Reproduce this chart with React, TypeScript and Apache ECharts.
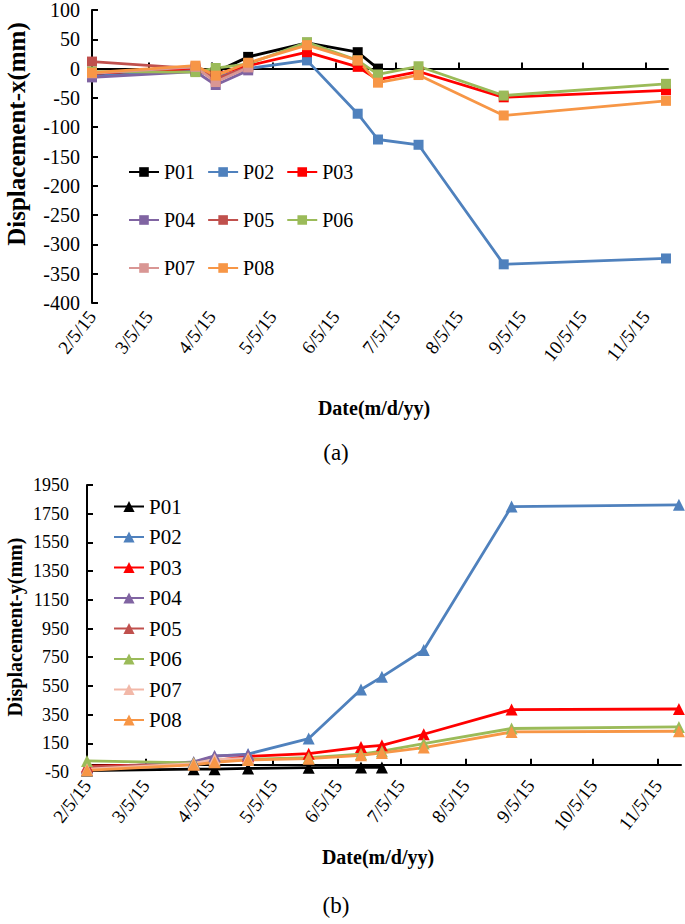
import React, { useEffect, useRef } from "react";
import * as echarts from "echarts";

const FONT = "Liberation Serif";
const START = "2015-02-05";
const AXIS_END = "2015-11-16";

const dates = [
  "2015-02-05", "2015-03-28", "2015-04-07", "2015-04-23", "2015-05-22",
  "2015-06-16", "2015-06-26", "2015-07-16", "2015-08-27", "2015-11-15",
];
const tickDates = [
  "2015-02-05", "2015-03-05", "2015-04-05", "2015-05-05", "2015-06-05",
  "2015-07-05", "2015-08-05", "2015-09-05", "2015-10-05", "2015-11-05",
];
const tickLabels = [
  "2/5/15", "3/5/15", "4/5/15", "5/5/15", "6/5/15",
  "7/5/15", "8/5/15", "9/5/15", "10/5/15", "11/5/15",
];
const names = ["P01", "P02", "P03", "P04", "P05", "P06", "P07", "P08"];
const colorsA = ["#000000", "#4F81BD", "#FF0000", "#8064A2", "#C0504D", "#9BBB59", "#D99694", "#F79646"];
const colorsB = ["#000000", "#4F81BD", "#FF0000", "#8064A2", "#C0504D", "#9BBB59", "#F2B8A8", "#F79646"];

// (a) Displacement-x (mm)
const xP01 = [-12, -3, -6, 20, 44, 28, 0, null, null, null];
const xP02 = [-13, -3, -15, 0, 14, -77, -121, -130, -334, -324];
const xP03 = [-8, 0, -10, 5, 28, 3, -19, -5, -49, -37];
const xP04 = [-15, -5, -28, -3, null, null, null, null, null, null];
const xP05 = [12, 0, -18, 3, null, null, null, null, null, null];
const xP06 = [-5, -6, 1, 8, 45, 14, -10, 4, -46, -26];
const xP07 = [-8, 3, -23, 2, null, null, null, null, null, null];
const xP08 = [-7, 5, -12, 10, 40, 14, -24, -11, -80, -55];

// (b) Displacement-y (mm)
const yP01 = [-40, -30, -30, -25, -20, -18, -18, null, null, null];
const yP02 = [-20, 15, 60, 75, 183, 525, 613, 800, 1800, 1812];
const yP03 = [-10, 5, 30, 59, 78, 124, 136, 213, 385, 389];
const yP04 = [-25, 20, 62, 70, null, null, null, null, null, null];
const yP05 = [-15, 5, 25, 45, null, null, null, null, null, null];
const yP06 = [27, 13, 25, 38, 50, 75, 95, 148, 253, 264];
const yP07 = [-30, 8, 38, 45, null, null, null, null, null, null];
const yP08 = [-38, 0, 18, 34, 43, 66, 83, 120, 229, 234];

const xSeries = [xP01, xP02, xP03, xP04, xP05, xP06, xP07, xP08];
const ySeries = [yP01, yP02, yP03, yP04, yP05, yP06, yP07, yP08];

const day = (s: string) => Math.round((Date.parse(s) - Date.parse(START)) / 86400000);
const tickDays = tickDates.map(day);

function xAxisOpt() {
  return {
    type: "value",
    min: 0,
    max: day(AXIS_END),
    axisLine: { show: true, lineStyle: { color: "#000", width: 2 } },
    axisTick: { show: true, inside: true, length: 6, customValues: tickDays, lineStyle: { color: "#000", width: 2 } },
    axisLabel: {
      customValues: tickDays,
      rotate: 52,
      margin: 10,
      color: "#000",
      fontFamily: FONT,
      fontSize: 19,
      formatter: (v: number) => {
        const i = tickDays.indexOf(Math.round(v));
        return i >= 0 ? tickLabels[i] : "";
      },
    },
    splitLine: { show: false },
  };
}

function yAxisOpt(min: number, max: number, interval: number, margin: number, size: number) {
  return {
    type: "value",
    min,
    max,
    interval,
    axisLine: { show: true, lineStyle: { color: "#000", width: 2 } },
    axisTick: { show: true, inside: true, length: 6, lineStyle: { color: "#000", width: 2 } },
    axisLabel: { color: "#000", fontFamily: FONT, fontSize: size, margin, formatter: (v: number) => String(v) },
    splitLine: { show: false },
  };
}

function buildSeries(arrs: (number | null)[][], colors: string[], symbol: string, size: number) {
  return arrs.map((vals, k) => ({
    name: names[k],
    type: "line",
    symbol,
    symbolSize: size,
    showSymbol: true,
    lineStyle: { width: 2.8, color: colors[k] },
    itemStyle: { color: colors[k] },
    data: dates
      .map((d, i) => [day(d), vals[i]])
      .filter((p) => p[1] !== null && p[1] !== undefined),
  }));
}

const legendBase = {
  itemWidth: 30,
  itemHeight: 12,
  textStyle: { fontFamily: FONT, fontSize: 21, color: "#000" },
  selectedMode: false,
};

const legendTop = { ...legendBase, textStyle: { fontFamily: FONT, fontSize: 20, color: "#000" }, itemGap: 12 };

function optionA() {
  return {
    animation: false,
    backgroundColor: "#fff",
    grid: { left: 92, top: 7, width: 576, height: 296 },
    xAxis: xAxisOpt(),
    yAxis: yAxisOpt(-400, 100, 50, 12, 20),
    legend: [
      { ...legendTop, data: names.slice(0, 3), left: 123, top: 157 },
      { ...legendTop, data: names.slice(3, 6), left: 123, top: 205 },
      { ...legendTop, data: names.slice(6, 8), left: 123, top: 253 },
    ],
    series: buildSeries(xSeries, colorsA, "rect", 10),
    graphic: [
      {
        type: "text",
        x: 16,
        y: 134,
        rotation: Math.PI / 2,
        style: { text: "Displacement-x(mm)", fontFamily: FONT, fontWeight: "bold", fontSize: 25, fill: "#000", align: "center", verticalAlign: "middle" },
      },
      {
        type: "text",
        x: 374,
        y: 408,
        style: { text: "Date(m/d/yy)", fontFamily: FONT, fontWeight: "bold", fontSize: 20, fill: "#000", align: "center", verticalAlign: "middle" },
      },
      {
        type: "text",
        x: 336,
        y: 452,
        style: { text: "(a)", fontFamily: FONT, fontSize: 23, fill: "#000", align: "center", verticalAlign: "middle" },
      },
    ],
  };
}

const B_OFF = 470;

function optionB() {
  return {
    animation: false,
    backgroundColor: "#fff",
    grid: { left: 87, top: 485 - B_OFF, width: 594, height: 287 },
    xAxis: xAxisOpt(),
    yAxis: yAxisOpt(-50, 1950, 200, 18, 18),
    legend: {
      ...legendBase,
      orient: "vertical",
      data: names,
      left: 108,
      top: 491 - B_OFF,
      itemGap: 9.5,
      itemHeight: 14,
    },
    series: buildSeries(ySeries, colorsB, "triangle", 12),
    graphic: [
      {
        type: "text",
        x: 15,
        y: 627 - B_OFF,
        rotation: Math.PI / 2,
        style: { text: "Displacement-y(mm)", fontFamily: FONT, fontWeight: "bold", fontSize: 20, fill: "#000", align: "center", verticalAlign: "middle" },
      },
      {
        type: "text",
        x: 378,
        y: 857 - B_OFF,
        style: { text: "Date(m/d/yy)", fontFamily: FONT, fontWeight: "bold", fontSize: 20, fill: "#000", align: "center", verticalAlign: "middle" },
      },
      {
        type: "text",
        x: 336,
        y: 905 - B_OFF,
        style: { text: "(b)", fontFamily: FONT, fontSize: 23, fill: "#000", align: "center", verticalAlign: "middle" },
      },
    ],
  };
}

export default function App() {
  const refA = useRef<HTMLDivElement>(null);
  const refB = useRef<HTMLDivElement>(null);
  useEffect(() => {
    const a = echarts.init(refA.current!, null, { renderer: "svg" });
    const b = echarts.init(refB.current!, null, { renderer: "svg" });
    a.setOption(optionA() as any);
    b.setOption(optionB() as any);
    return () => {
      a.dispose();
      b.dispose();
    };
  }, []);
  return (
    <div style={{ position: "absolute", left: 0, top: 0, width: 685, height: 924, background: "#fff" }}>
      <div ref={refA} style={{ position: "absolute", left: 0, top: 0, width: 685, height: B_OFF }} />
      <div ref={refB} style={{ position: "absolute", left: 0, top: B_OFF, width: 685, height: 924 - B_OFF }} />
    </div>
  );
}
